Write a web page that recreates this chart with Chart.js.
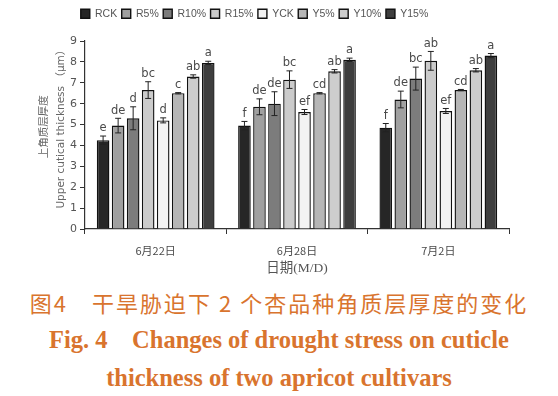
<!DOCTYPE html>
<html lang="zh-CN">
  <head>
    <meta charset="UTF-8" />
    <title>干旱胁迫下2个杏品种角质层厚度的变化</title>
    <script src="https://cdn.jsdelivr.net/npm/chart.js"></script>
    <style>
      body { margin: 0; background: #fff; }
      .quadro { position: relative; width: 558px; height: 396px; overflow: hidden; }
      #grafico { position: absolute; left: 0; top: 0; }
      .legenda {
        position: absolute; left: 0; width: 558px; text-align: center;
        color: #d9742e; white-space: nowrap;
      }
      .cn { top: 286px; font: 22px "Noto Sans CJK SC", sans-serif; letter-spacing: 2px; }
      .en1 { top: 326px; font: bold 24.5px "Liberation Serif", serif; }
      .en2 { top: 364px; font: bold 24.5px "Liberation Serif", serif; }
    </style>
  </head>

  <body>
    <div class="quadro">
      <canvas id="grafico" width="558" height="285"></canvas>
      <div class="legenda cn">图4&emsp;干旱胁迫下 2 个杏品种角质层厚度的变化</div>
      <div class="legenda en1">Fig. 4&emsp;Changes of drought stress on cuticle</div>
      <div class="legenda en2">thickness of two apricot cultivars</div>
    </div>

<script>
  // datas e tratamentos
  var datas = ["6月22日", "6月28日", "7月2日"];
  var tratamentos = ["RCK", "R5%", "R10%", "R15%", "YCK", "Y5%", "Y10%", "Y15%"];
  var cores = ["#262626", "#a0a0a0", "#7c7c7c", "#cbcbcb", "#f3f3f3", "#b6b6b6", "#cdcdcd", "#3e3e3e"];

  // medias (um) por tratamento, nas 3 datas
  var rck = [4.25, 4.95, 4.85];
  var r5 = [4.95, 5.85, 6.2];
  var r10 = [5.3, 6.0, 7.2];
  var r15 = [6.65, 7.15, 8.05];
  var yck = [5.2, 5.6, 5.65];
  var y5 = [6.5, 6.5, 6.65];
  var y10 = [7.3, 7.55, 7.6];
  var y15 = [7.95, 8.1, 8.3];

  // erro padrao
  var rckErr = [0.2, 0.2, 0.2];
  var r5Err = [0.35, 0.38, 0.4];
  var r10Err = [0.55, 0.57, 0.55];
  var r15Err = [0.4, 0.42, 0.45];
  var yckErr = [0.12, 0.12, 0.12];
  var y5Err = [0.03, 0.03, 0.03];
  var y10Err = [0.08, 0.08, 0.08];
  var y15Err = [0.08, 0.08, 0.1];

  // letras de significancia
  var rckSig = ["e", "f", "f"];
  var r5Sig = ["de", "de", "de"];
  var r10Sig = ["d", "de", "bc"];
  var r15Sig = ["bc", "bc", "ab"];
  var yckSig = ["d", "ef", "ef"];
  var y5Sig = ["c", "cd", "cd"];
  var y10Sig = ["ab", "ab", "ab"];
  var y15Sig = ["a", "a", "a"];

  var yTicks = [0, 1, 2, 3, 4, 5, 6, 7, 8, 9];

  var medias = [rck, r5, r10, r15, yck, y5, y10, y15];
  var erros = [rckErr, r5Err, r10Err, r15Err, yckErr, y5Err, y10Err, y15Err];
  var letras = [rckSig, r5Sig, r10Sig, r15Sig, yckSig, y5Sig, y10Sig, y15Sig];

  var datasets = [];
  for (var i = 0; i < tratamentos.length; i++) {
    datasets.push({
      label: tratamentos[i],
      data: medias[i],
      backgroundColor: cores[i],
      borderColor: "#111",
      borderWidth: 1.4,
      categoryPercentage: 0.85,
      barPercentage: 0.84,
    });
  }

  // barras de erro + letras
  var barrasErro = {
    id: "barrasErro",
    afterDatasetsDraw: function (chart) {
      var ctx = chart.ctx;
      var y = chart.scales.y;
      ctx.save();
      ctx.strokeStyle = "#222";
      ctx.lineWidth = 1;
      ctx.fillStyle = "#4a4a4a";
      ctx.font = "11.5px 'DejaVu Sans', sans-serif";
      ctx.textAlign = "center";
      ctx.textBaseline = "bottom";
      for (var i = 0; i < chart.data.datasets.length; i++) {
        var meta = chart.getDatasetMeta(i);
        meta.data.forEach(function (bar, j) {
          var v = medias[i][j], e = erros[i][j];
          var topo = y.getPixelForValue(v + e);
          var base = y.getPixelForValue(v - e);
          ctx.beginPath();
          ctx.moveTo(bar.x, topo); ctx.lineTo(bar.x, base);
          ctx.moveTo(bar.x - 3, topo); ctx.lineTo(bar.x + 3, topo);
          ctx.moveTo(bar.x - 3, base); ctx.lineTo(bar.x + 3, base);
          ctx.stroke();
          ctx.fillText(letras[i][j], bar.x, topo - 2);
        });
      }
      ctx.restore();
    },
  };

  // espaco entre a legenda e o grafico
  var espacoLegenda = {
    id: "espacoLegenda",
    beforeInit: function (chart) {
      var fitOriginal = chart.legend.fit;
      chart.legend.fit = function () {
        fitOriginal.bind(chart.legend)();
        this.height += 12;
      };
    },
  };

  var ctx = document.getElementById("grafico");
  new Chart(ctx, {
    type: "bar",
    data: { labels: datas, datasets: datasets },
    options: {
      responsive: false,
      animation: false,
      layout: { padding: { top: 4, right: 49, left: 0, bottom: 0 } },
      plugins: {
        tooltip: { enabled: false },
        legend: {
          labels: {
            boxWidth: 9,
            boxHeight: 9,
            padding: 4.5,
            color: "#555",
            font: { size: 10.5, family: "'Liberation Sans Narrow', 'Liberation Sans', sans-serif" },
          },
        },
      },
      scales: {
        x: {
          grid: { offset: true, drawOnChartArea: false, tickLength: 5, color: "#333" },
          border: { color: "#333", width: 1.2 },
          ticks: { color: "#4a4a4a", padding: 10, font: { size: 11, family: "'Noto Sans CJK SC', sans-serif" } },
          title: {
            display: true,
            text: "日期(M/D)",
            color: "#555",
            padding: { top: 0, bottom: 8 },
            font: { size: 13.5, family: "'Liberation Serif', 'Noto Sans CJK SC', serif" },
          },
          afterFit: function (s) { s.height = 56; },
        },
        y: {
          min: 0,
          max: 9,
          afterBuildTicks: function (s) {
            s.ticks = yTicks.map(function (t) { return { value: t }; });
          },
          grid: { drawOnChartArea: false, tickLength: 5, color: "#333" },
          border: { color: "#333", width: 1.2 },
          ticks: { color: "#555", padding: 3, font: { size: 11, family: "'DejaVu Sans', sans-serif" } },
          title: {
            display: true,
            text: ["\u00a0\u00a0\u00a0\u00a0\u00a0上角质层厚度", "\u00a0\u00a0\u00a0\u00a0\u00a0Upper cutical thickness （μm）"],
            color: "#666",
            padding: { top: 36, bottom: 0 },
            font: { size: 10.5, family: "'DejaVu Sans', 'Noto Sans CJK SC', sans-serif", lineHeight: 1.6 },
          },
          afterFit: function (s) { s.width = 85; },
        },
      },
    },
    plugins: [barrasErro, espacoLegenda],
  });
</script>
  </body>
</html>
